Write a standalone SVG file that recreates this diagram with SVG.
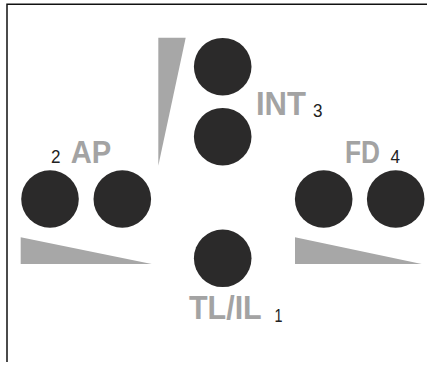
<svg xmlns="http://www.w3.org/2000/svg" width="427" height="365" viewBox="0 0 427 365">
  <style>
    .dot { fill: #2b2a2a; }
    .wedge { fill: #a7a7a7; }
    .lbl { font-family: "Liberation Sans", Arial, sans-serif; font-weight: bold; fill: #a3a3a3; }
    .num { font-family: "Liberation Sans", Arial, sans-serif; fill: #222; font-size: 19px; }
    .frame { fill: none; stroke: #111; stroke-width: 1.5; }
  </style>
  <rect width="427" height="365" fill="#fff"/>
  <path class="frame" d="M7,362 V4.3 H427"/>
  <g id="wedges">
    <polygon class="wedge" points="158.3,37.7 185.7,37.7 158.3,165.7"/>
    <polygon class="wedge" points="20.7,237.3 20.7,264 151.7,264"/>
    <polygon class="wedge" points="295,237.3 295,264 421.7,264"/>
  </g>
  <g id="node-int">
    <circle class="dot" cx="222.7" cy="66.7" r="28.8"/>
    <circle class="dot" cx="222.7" cy="136.7" r="28.8"/>
    <text class="lbl" x="256" y="115" font-size="34" textLength="50" lengthAdjust="spacingAndGlyphs">INT</text>
    <text class="num" x="313" y="116.7" textLength="9.5" lengthAdjust="spacingAndGlyphs">3</text>
  </g>
  <g id="node-ap">
    <circle class="dot" cx="50" cy="199" r="28.8"/>
    <circle class="dot" cx="122.3" cy="199" r="28.8"/>
    <text class="lbl" x="70.7" y="162.7" font-size="31" textLength="40.5" lengthAdjust="spacingAndGlyphs">AP</text>
    <text class="num" x="51" y="162.7" textLength="9.5" lengthAdjust="spacingAndGlyphs">2</text>
  </g>
  <g id="node-fd">
    <circle class="dot" cx="323.7" cy="199" r="28.8"/>
    <circle class="dot" cx="395.7" cy="199" r="28.8"/>
    <text class="lbl" x="345" y="162.7" font-size="31" textLength="35" lengthAdjust="spacingAndGlyphs">FD</text>
    <text class="num" x="390.5" y="163.3" textLength="9.5" lengthAdjust="spacingAndGlyphs">4</text>
  </g>
  <g id="node-tlil">
    <circle class="dot" cx="222.7" cy="258.3" r="28.8"/>
    <text class="lbl" x="189" y="319.3" font-size="34" textLength="72.7" lengthAdjust="spacingAndGlyphs">TL/IL</text>
    <text class="num" x="274.5" y="322" textLength="8" lengthAdjust="spacingAndGlyphs">1</text>
  </g>
</svg>
